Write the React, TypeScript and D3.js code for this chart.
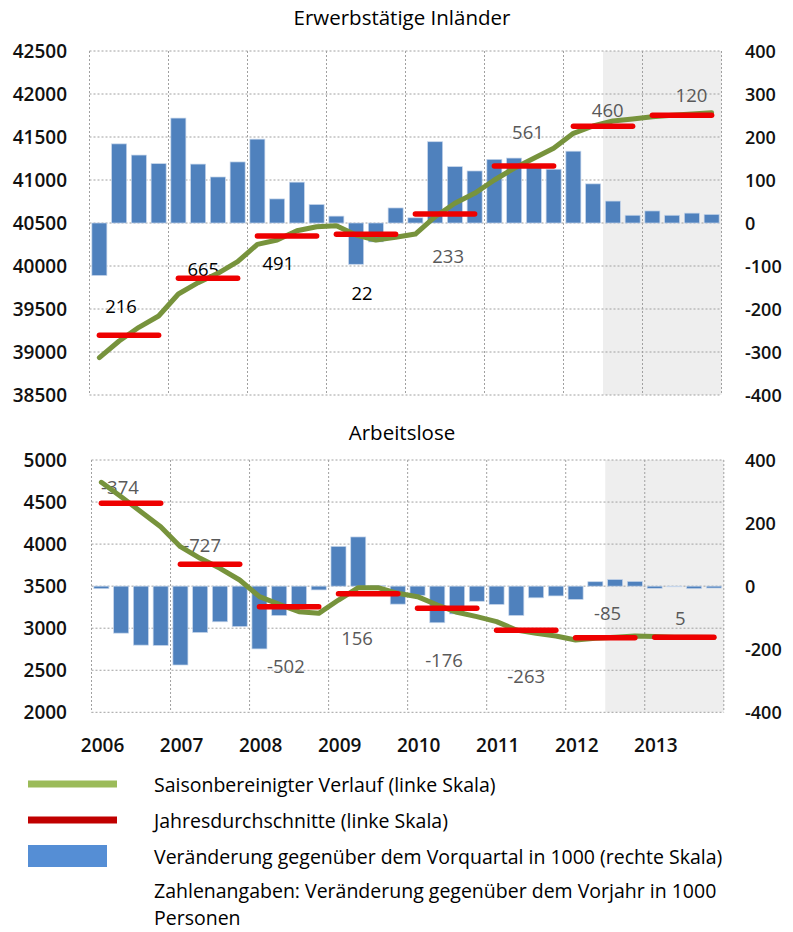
import React from "react";
import * as d3 from "d3";

// categories
const years = [2006, 2007, 2008, 2009, 2010, 2011, 2012, 2013];
const quarters = years.flatMap((y) => [1, 2, 3, 4].map((q) => `${y}Q${q}`));

// Erwerbstätige Inländer
const empBars = [
  -122, 184, 158, 138, 244, 137, 107, 142, 195, 56, 95, 43, 16, -96, -44, 35,
  12, 189, 131, 121, 148, 151, 129, 125, 167, 91, 51, 18, 28, 18, 23, 20,
];
const empTrend = [
  38934, 39128, 39287, 39419, 39674, 39806, 39915, 40050, 40252, 40302, 40410,
  40457, 40469, 40360, 40302, 40334, 40372, 40573, 40729, 40845, 41000, 41136,
  41252, 41368, 41543, 41628, 41686, 41709, 41736, 41752, 41767, 41783,
];
const empAvg = [39194, 39857, 40349, 40369, 40605, 41163, 41624, 41752];
const empYoY = [216, 665, 491, 22, 233, 561, 460, 120];
// label anchors: [year position, left-axis value]
const empLabelAt = [
  [2006.4, 39535], [2007.44, 39971], [2008.39, 40038], [2009.45, 39692],
  [2010.54, 40120], [2011.55, 41562], [2012.56, 41822], [2013.62, 42000],
];

// Arbeitslose
const unBars = [
  -8, -149, -187, -188, -250, -147, -113, -128, -199, -93, -67, -12, 126, 156,
  2, -57, -29, -116, -88, -48, -58, -93, -37, -31, -42, 14, 21, 15, -7, -2, -8,
  -6,
];
const unTrend = [
  4735, 4564, 4385, 4207, 3969, 3831, 3712, 3573, 3375, 3284, 3196, 3177, 3335,
  3482, 3482, 3415, 3375, 3276, 3189, 3137, 3078, 2979, 2940, 2907, 2860, 2880,
  2892, 2907, 2900, 2892, 2892, 2888,
];
const unAvg = [4485, 3760, 3256, 3410, 3237, 2975, 2887, 2892];
const unYoY = [-374, -727, -502, 156, -176, -263, -85, 5];
const unLabelAt = [
  [2006.36, 4679], [2007.4, 3998], [2008.46, 2562], [2009.36, 2892],
  [2010.46, 2622], [2011.5, 2443], [2012.53, 3189], [2013.45, 3125],
];

const empLeftTicks = d3.range(38500, 42501, 500);
const empRightTicks = d3.range(-400, 401, 100);
const unLeftTicks = d3.range(2000, 5001, 500);
const unRightTicks = d3.range(-400, 401, 200);

const legendItems = [
  "Saisonbereinigter Verlauf (linke Skala)",
  "Jahresdurchschnitte (linke Skala)",
  "Veränderung gegenüber dem Vorquartal in 1000 (rechte Skala)",
  "Zahlenangaben: Veränderung gegenüber dem Vorjahr in 1000",
  "Personen",
];

const FONT = "'Open Sans', sans-serif";

function Panel({ title, titleY, x0, x1, y0, y1, leftTicks, rightTicks, bars, trend, avg, yoy, labelAt, darkLabels, showYears }) {
  const xTime = d3.scaleLinear().domain([2006, 2014]).range([x0, x1]);
  const xBand = d3.scaleBand().domain(quarters).range([x0, x1]).paddingInner(0.24).paddingOuter(0.12);
  const yL = d3.scaleLinear().domain(d3.extent(leftTicks)).range([y1, y0]);
  const yR = d3.scaleLinear().domain(d3.extent(rightTicks)).range([y1, y0]);
  const qc = (i) => xTime(2006 + (i + 0.5) / 4);
  const line = d3.line().x((d, i) => qc(i)).y((d) => yL(d));
  const grid = "#a0a0a0";

  return (
    <g>
      <text x={402} y={titleY} textAnchor="middle" fontFamily={FONT} fontSize={20.5} fill="#000">{title}</text>
      <rect x={xTime(2012.5)} y={y0} width={x1 - xTime(2012.5)} height={y1 - y0} fill="#eeeeee" />
      {leftTicks.map((t) => (
        <line key={"h" + t} x1={x0} x2={x1} y1={yL(t)} y2={yL(t)} stroke={grid} strokeDasharray="2,2" />
      ))}
      {d3.range(2006, 2015).map((yr) => (
        <line key={"v" + yr} x1={xTime(yr)} x2={xTime(yr)} y1={y0} y2={y1} stroke={grid} strokeDasharray="2,2" />
      ))}
      {bars.map((v, i) => (
        <rect key={"b" + i} x={xBand(quarters[i])} width={xBand.bandwidth()}
          y={Math.min(yR(v), yR(0))} height={Math.abs(yR(v) - yR(0))}
          fill="#4f81bd" stroke="#c5d5ea" strokeWidth={0.7} />
      ))}
      {leftTicks.map((t) => (
        <text key={"lt" + t} x={67} y={yL(t)} textAnchor="end" dominantBaseline="central"
          fontFamily={FONT} fontSize={19} fontWeight={600} fill="#111">{t}</text>
      ))}
      {rightTicks.map((t) => (
        <text key={"rt" + t} x={745} y={yR(t)} textAnchor="start" dominantBaseline="central"
          fontFamily={FONT} fontSize={18} fontWeight={600} fill="#111">{t}</text>
      ))}
      {yoy.map((v, i) => (
        <text key={"yl" + i} x={xTime(labelAt[i][0])} y={yL(labelAt[i][1])} textAnchor="middle"
          dominantBaseline="central" fontFamily={FONT} fontSize={18.5}
          fill={i < darkLabels ? "#000" : "#595959"}>{v}</text>
      ))}
      <path d={line(trend)} fill="none" stroke="#77933c" strokeWidth={5} strokeLinejoin="round" strokeLinecap="round" />
      {avg.map((v, i) => (
        <line key={"a" + i} x1={qc(i * 4)} x2={qc(i * 4 + 3)} y1={yL(v)} y2={yL(v)}
          stroke="#ee0000" strokeWidth={5.5} strokeLinecap="round" />
      ))}
      {showYears && years.map((yr) => (
        <text key={"yr" + yr} x={xTime(yr + 0.14)} y={745} textAnchor="middle" dominantBaseline="central"
          fontFamily={FONT} fontSize={19} fontWeight={600} fill="#111">{yr}</text>
      ))}
    </g>
  );
}

export default function App() {
  const rowY = [784, 820, 856, 890, 917];
  return (
    <svg width={793} height={932} style={{ position: "absolute", left: 0, top: 0, background: "#fff" }}>
      <Panel title="Erwerbstätige Inländer" titleY={25} x0={89.5} x1={721.5} y0={51} y1={395}
        leftTicks={empLeftTicks} rightTicks={empRightTicks} bars={empBars} trend={empTrend}
        avg={empAvg} yoy={empYoY} labelAt={empLabelAt} darkLabels={4} showYears={false} />
      <Panel title="Arbeitslose" titleY={440} x0={91.5} x1={723.8} y0={460} y1={712.3}
        leftTicks={unLeftTicks} rightTicks={unRightTicks} bars={unBars} trend={unTrend}
        avg={unAvg} yoy={unYoY} labelAt={unLabelAt} darkLabels={0} showYears={true} />
      <line x1={28} x2={117} y1={rowY[0]} y2={rowY[0]} stroke="#9bbb59" strokeWidth={7} />
      <line x1={28} x2={117} y1={rowY[1]} y2={rowY[1]} stroke="#c00000" strokeWidth={7} />
      <rect x={28} y={rowY[2] - 11} width={79} height={22} fill="#558ed5" />
      {legendItems.map((t, i) => (
        <text key={t} x={154} y={rowY[i]} dominantBaseline="central" fontFamily={FONT} fontSize={19.5} fill="#000">{t}</text>
      ))}
    </svg>
  );
}
